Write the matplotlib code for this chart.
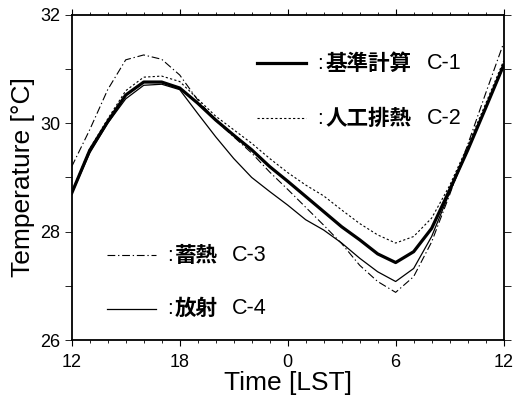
import numpy as np
import matplotlib
matplotlib.use("Agg")
import matplotlib.pyplot as plt
from matplotlib.lines import Line2D

plt.rcParams['font.family'] = ['Liberation Sans', 'Noto Sans CJK JP']

# hours from 12 LST to 12 LST next day
hours = list(range(12, 37))
tick_pos = [12, 18, 24, 30, 36]
tick_lab = ['12', '18', '0', '6', '12']

# case values
c1 = [28.71, 29.50, 30.03, 30.52, 30.76, 30.76, 30.65, 30.37, 30.06, 29.78, 29.51, 29.20,
      28.93, 28.65, 28.37, 28.09, 27.85, 27.59, 27.43, 27.63, 28.06, 28.77, 29.50, 30.28, 31.07]
c2 = [28.73, 29.53, 30.08, 30.60, 30.85, 30.87, 30.77, 30.45, 30.13, 29.88, 29.63, 29.35,
      29.09, 28.86, 28.66, 28.40, 28.15, 27.94, 27.79, 27.91, 28.25, 28.85, 29.58, 30.36, 31.15]
c3 = [29.20, 29.88, 30.62, 31.17, 31.26, 31.18, 30.89, 30.43, 30.05, 29.75, 29.45, 29.10,
      28.78, 28.45, 28.12, 27.78, 27.38, 27.08, 26.88, 27.17, 27.81, 28.68, 29.60, 30.55, 31.48]
c4 = [28.70, 29.45, 30.00, 30.45, 30.70, 30.72, 30.62, 30.18, 29.75, 29.35, 29.00, 28.74,
      28.49, 28.22, 28.03, 27.79, 27.51, 27.26, 27.08, 27.32, 27.91, 28.72, 29.50, 30.28, 31.05]

names = ['基準計算', '人工排熱', '蓄熱', '放射']
codes = ['C-1', 'C-2', 'C-3', 'C-4']

styles = [dict(lw=2.3, ls='-'),
          dict(lw=0.8, ls=(0, (2.0, 2.0))),
          dict(lw=0.8, ls=(0, (7, 2.5, 1.2, 2.5))),
          dict(lw=0.9, ls='-')]

fig = plt.figure(figsize=(5.16, 4.01), dpi=100)
ax = fig.add_axes([0.139, 0.152, 0.837, 0.811])

for vals, st in zip([c1, c2, c3, c4], styles):
    ax.plot(hours, vals, color='black', **st)

ax.set_xlim(12, 36)
ax.set_ylim(26, 32)
ax.set_xticks(tick_pos)
ax.set_xticklabels(tick_lab)
ax.set_xticks(hours, minor=True)
ax.set_yticks([26, 28, 30, 32])
ax.set_yticks([27, 29, 31], minor=True)

ax.tick_params(axis='x', which='both', direction='out', top=True, labelsize=13, pad=6)
ax.tick_params(axis='x', which='major', length=4, width=0.8)
ax.tick_params(axis='x', which='minor', length=2.5, width=0.6)
ax.tick_params(axis='y', which='both', direction='out', right=True, length=5, width=0.6,
               labelsize=13, pad=3)
for s in ax.spines.values():
    s.set_linewidth(1.3)

ax.set_xlabel('Time [LST]', fontsize=19, labelpad=0)
ax.set_ylabel('Temperature [°C]', fontsize=19, labelpad=4)

# legend: two groups placed inside the plot
leg_pos = [(0.43, 0.851), (0.43, 0.682), (0.082, 0.26), (0.082, 0.096)]
for (lx, ly), st, nm, cd in zip(leg_pos, styles, names, codes):
    ax.add_line(Line2D([lx, lx + 0.113], [ly, ly], color='black', transform=ax.transAxes, **st))
    ax.text(lx + 0.138, ly, ':', transform=ax.transAxes, fontsize=15, va='center', ha='left')
    ax.text(lx + 0.157, ly, nm, transform=ax.transAxes, fontsize=15.5, va='center', ha='left',
            family='Noto Sans CJK JP', fontweight='bold')
    ax.text(lx + 0.185 + 0.052 * len(nm), ly, cd, transform=ax.transAxes, fontsize=15.5,
            va='center', ha='left')

fig.savefig('out.png', dpi=100)
